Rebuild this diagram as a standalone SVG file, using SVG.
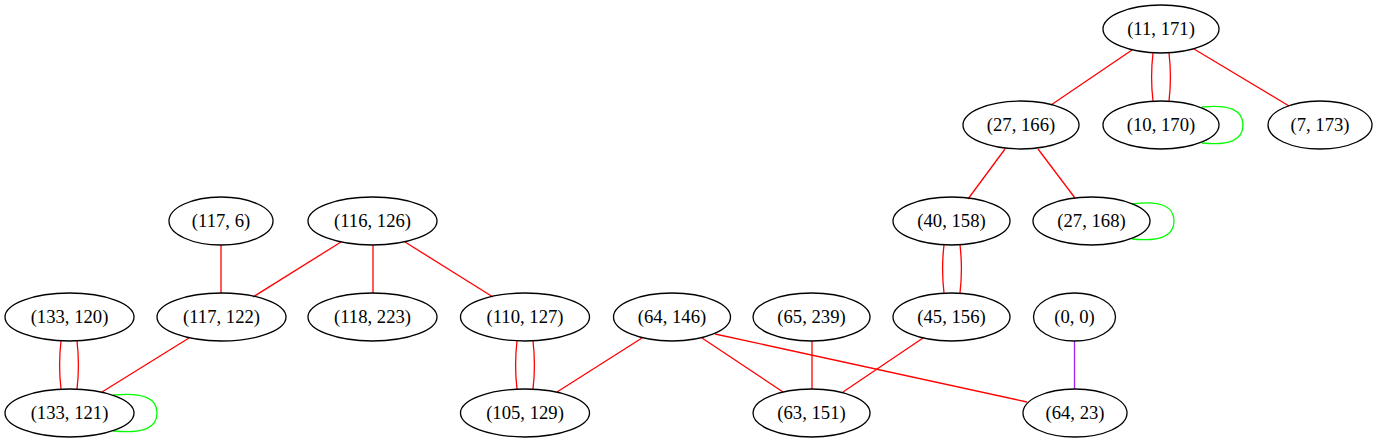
<svg xmlns="http://www.w3.org/2000/svg" width="1377" height="443" viewBox="0 0 1377 443">
<style>
.n ellipse{fill:none;stroke:#000;stroke-width:1.3}
.n text{font-family:"Liberation Serif","Times New Roman",serif;font-size:18.67px;text-anchor:middle;fill:#000}
.e{fill:none;stroke:#ff0000;stroke-width:1.3}
.l{fill:none;stroke:#00ff00;stroke-width:1.3}
.p{fill:none;stroke:#a020f0;stroke-width:1.3}
</style>
<rect width="1377" height="443" fill="#fff"/>
<g id="edges">
<path class="e" d="M1132,50 L1051,105"/>
<path class="e" d="M1153,53 C1151,70 1151,84 1153,101"/>
<path class="e" d="M1169,53 C1171,70 1171,84 1169,101"/>
<path class="e" d="M1194,49 L1289,106"/>
<path class="e" d="M1005,149 L968,199"/>
<path class="e" d="M1038,149 L1075,198"/>
<path class="l" d="M1202,107 C1231,104 1243,111 1243,125 C1243,139 1231,146 1202,143"/>
<path class="l" d="M1132,204 C1162,200 1174,207 1174,221 C1174,235 1162,242 1132,239"/>
<path class="e" d="M944,245 C942,262 942,276 944,293"/>
<path class="e" d="M960,245 C962,262 962,276 960,293"/>
<path class="e" d="M221,245 L221,293"/>
<path class="e" d="M341,242 L253,297"/>
<path class="e" d="M373,245 L373,293"/>
<path class="e" d="M405,242 L493,297"/>
<path class="e" d="M61,341 C59,358 59,372 61,389"/>
<path class="e" d="M77,341 C79,358 79,372 77,389"/>
<path class="e" d="M189,338 L102,392"/>
<path class="l" d="M113,395 C145,392 157,399 157,413 C157,427 145,434 113,431"/>
<path class="e" d="M517,341 C515,358 515,372 517,389"/>
<path class="e" d="M533,341 C535,358 535,372 533,389"/>
<path class="e" d="M642,338 L557,392"/>
<path class="e" d="M702,338 L783,392"/>
<path class="e" d="M715,334 L1027,402"/>
<path class="e" d="M812,341 L812,389"/>
<path class="e" d="M923,338 L843,392"/>
<path class="p" d="M1074.5,341 L1074.5,389"/>
</g>
<g id="n11_171" class="n"><ellipse cx="1161" cy="29" rx="58" ry="24"/><text x="1161" y="35">(11, 171)</text></g>
<g id="n27_166" class="n"><ellipse cx="1021" cy="125" rx="58" ry="24"/><text x="1021" y="131">(27, 166)</text></g>
<g id="n10_170" class="n"><ellipse cx="1161" cy="125" rx="58" ry="24"/><text x="1161" y="131">(10, 170)</text></g>
<g id="n7_173" class="n"><ellipse cx="1320" cy="125" rx="52" ry="24"/><text x="1320" y="131">(7, 173)</text></g>
<g id="n40_158" class="n"><ellipse cx="951.5" cy="221" rx="58.5" ry="24"/><text x="951.5" y="227">(40, 158)</text></g>
<g id="n27_168" class="n"><ellipse cx="1091.5" cy="221" rx="58.5" ry="24"/><text x="1091.5" y="227">(27, 168)</text></g>
<g id="n117_6" class="n"><ellipse cx="221" cy="221" rx="52" ry="24"/><text x="221" y="227">(117, 6)</text></g>
<g id="n116_126" class="n"><ellipse cx="372.5" cy="221" rx="64.5" ry="24"/><text x="372.5" y="227">(116, 126)</text></g>
<g id="n133_120" class="n"><ellipse cx="69.5" cy="317" rx="64.5" ry="24"/><text x="69.5" y="323">(133, 120)</text></g>
<g id="n117_122" class="n"><ellipse cx="221.5" cy="317" rx="64.5" ry="24"/><text x="221.5" y="323">(117, 122)</text></g>
<g id="n118_223" class="n"><ellipse cx="372.5" cy="317" rx="64.5" ry="24"/><text x="372.5" y="323">(118, 223)</text></g>
<g id="n110_127" class="n"><ellipse cx="525" cy="317" rx="64.5" ry="24"/><text x="525" y="323">(110, 127)</text></g>
<g id="n64_146" class="n"><ellipse cx="672" cy="317" rx="58.5" ry="24"/><text x="672" y="323">(64, 146)</text></g>
<g id="n65_239" class="n"><ellipse cx="811.5" cy="317" rx="58.5" ry="24"/><text x="811.5" y="323">(65, 239)</text></g>
<g id="n45_156" class="n"><ellipse cx="951.5" cy="317" rx="58.5" ry="24"/><text x="951.5" y="323">(45, 156)</text></g>
<g id="n0_0" class="n"><ellipse cx="1074.5" cy="317" rx="41" ry="24"/><text x="1074.5" y="323">(0, 0)</text></g>
<g id="n133_121" class="n"><ellipse cx="69.5" cy="413" rx="64.5" ry="24"/><text x="69.5" y="419">(133, 121)</text></g>
<g id="n105_129" class="n"><ellipse cx="525" cy="413" rx="64.5" ry="24"/><text x="525" y="419">(105, 129)</text></g>
<g id="n63_151" class="n"><ellipse cx="811.5" cy="413" rx="58.5" ry="24"/><text x="811.5" y="419">(63, 151)</text></g>
<g id="n64_23" class="n"><ellipse cx="1075" cy="413" rx="52" ry="24"/><text x="1075" y="419">(64, 23)</text></g>
</svg>
